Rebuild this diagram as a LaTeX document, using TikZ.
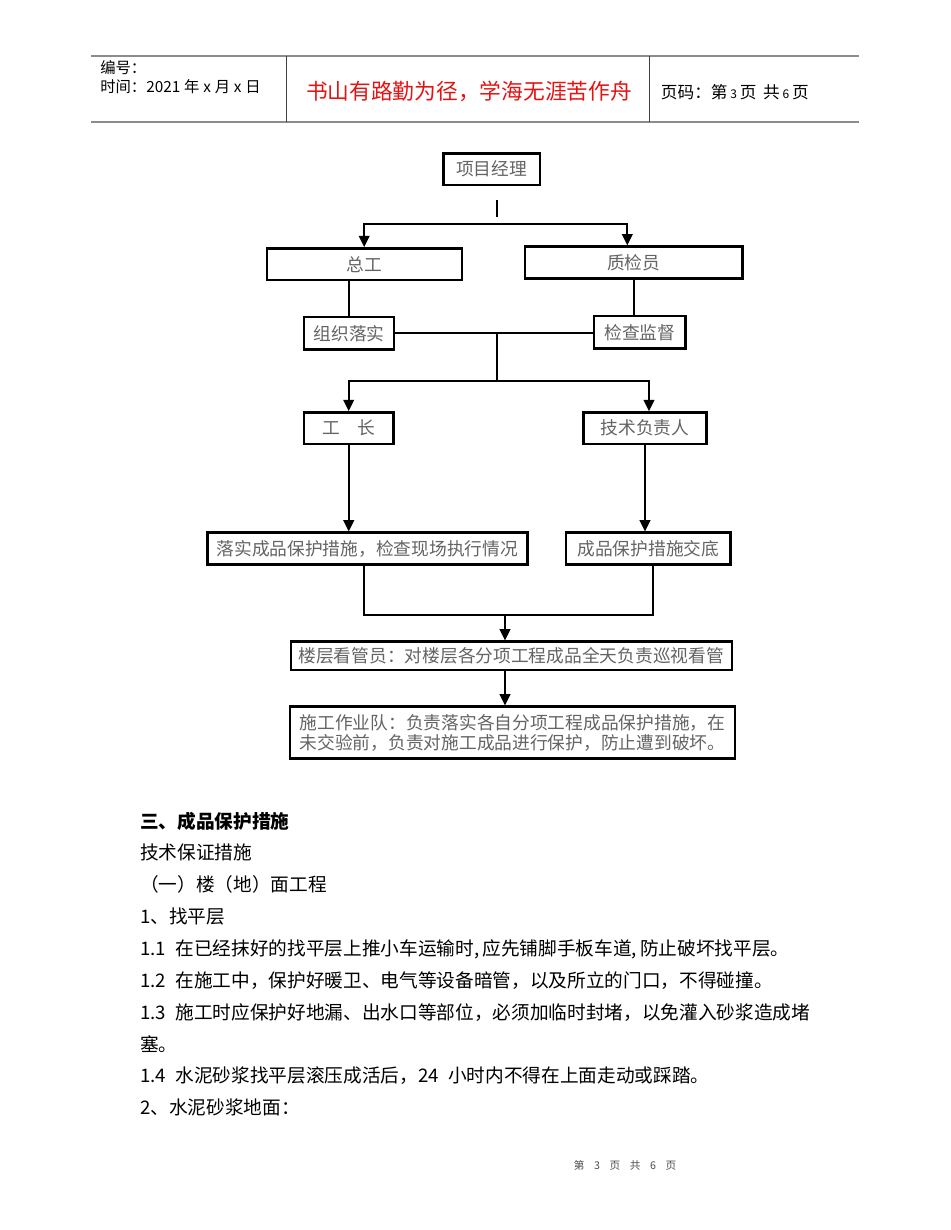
\documentclass[tikz,border=0pt]{standalone}
\usepackage{fontspec}
\setmainfont{Noto Sans CJK SC}
\usepackage{xcolor}
\usetikzlibrary{arrows.meta}

\definecolor{mottored}{RGB}{228,18,18}
\definecolor{flowgray}{RGB}{100,100,100}

\begin{document}
\begin{tikzpicture}[
        x=0.75pt, y=-0.75pt,
        every node/.style={inner sep=0pt},
        boxsize/.style 2 args={minimum width=#1*0.75pt, minimum height=#2*0.75pt},
        box/.style={rectangle, draw=black, line width=1.8pt, fill=white,
                    text=flowgray, font=\fontsize{13.3}{16}\selectfont},
        link/.style={line width=1.5pt, black},
        arrow/.style={-{Triangle[length=8.5pt, width=8pt]}, line width=1.5pt, black},
        rule/.style={line width=1.5pt, black!45},
        divider/.style={line width=0.8pt, black!75},
        head/.style={anchor=west, font=\fontsize{11.5}{13}\selectfont},
        body/.style={anchor=base west, font=\fontsize{14}{16}\selectfont}
    ]
    \useasboundingbox (0,0) rectangle (950,1230);

    % Page header
    \draw[rule] (91,55.7) -- (859.3,55.7);
    \draw[rule] (91,121.7) -- (859.3,121.7);
    \draw[divider] (286.7,55.7) -- (286.7,121.7);
    \draw[divider] (649.3,55.7) -- (649.3,121.7);
    \node[head] (code) at (100,67.5) {编号：};
    \node[head] (date) at (100,86.5)
        {时间：2021\hspace{0.25em}年\hspace{0.25em}x\hspace{0.25em}月\hspace{0.25em}x\hspace{0.25em}日};
    \node[text=mottored, font=\fontsize{16.3}{18}\selectfont] (motto) at (469,91.7)
        {书山有路勤为径，学海无涯苦作舟};
    \node[head, font=\fontsize{12.5}{14}\selectfont] (pageno) at (660.7,91.7)
        {页码：第\,{\fontsize{9}{10}\selectfont 3}\,页\hspace{0.4em}共\,{\fontsize{9}{10}\selectfont 6}\,页};

    % Top: project manager
    \node[box, boxsize={96.7}{31.7}] (pm) at (491.7,169.2) {项目经理};

    % Row 1: chief engineer and quality inspector
    \node[box, boxsize={195}{31.7}] (zg) at (364.2,264.2) {总工};
    \node[box, boxsize={217.3}{31.7}] (zj) at (633.7,262.5) {质检员};

    % Row 2: their duties
    \node[box, boxsize={90}{32}] (zz) at (349,333.3) {组织落实};
    \node[box, boxsize={91.7}{32.3}] (jc) at (639.8,332.2) {检查监督};

    % Row 3: foreman and technical lead
    \node[box, boxsize={89.3}{31.7}] (gz) at (348.7,428.2) {工\hspace{1em}长};
    \node[box, boxsize={123.3}{31.7}] (js) at (645,428.2) {技术负责人};

    % Row 4: what each of them does
    \node[box, boxsize={320}{31.7}] (ls) at (367.3,548.5) {落实成品保护措施，检查现场执行情况};
    \node[box, boxsize={164.7}{31.7}] (jd) at (648.3,548.5) {成品保护措施交底};

    % Row 5 and 6: floor keeper and work team
    \node[box, boxsize={441}{28.3}] (lc) at (511.2,655.8) {楼层看管员：对楼层各分项工程成品全天负责巡视看管};
    \node[box, boxsize={445}{51.7}, align=left, font=\fontsize{13.3}{15}\selectfont] (sg) at (512.5,732.5)
        {施工作业队：负责落实各自分项工程成品保护措施，在\\
         未交验前，负责对施工成品进行保护，防止遭到破坏。};

    % --- Connectors ---
    % stub under the manager, then the split to row 1
    \coordinate (stubA) at (496.7,200);
    \coordinate (stubB) at (496.7,216.7);
    \draw[link] (stubA) -- (stubB);
    \coordinate (forkA) at (496.7,224);
    \draw[arrow] (forkA) -| (zg.north);
    \draw[arrow] (forkA) -| ([xshift=-4.8pt]zj.north);

    % row 1 to row 2, joined in the middle
    \draw[link] (zz.north |- zg.south) -- (zz.north);
    \draw[link] (zj.south) -- (zj.south |- jc.north);
    \draw[link] (zz.east) -- (zz.east -| jc.west);
    \coordinate (forkB) at (497.3,333.3);
    \coordinate (forkC) at (497.3,380.7);
    \draw[link] (forkB) -- (forkC);
    \draw[arrow] (forkC) -| (gz.north);
    \draw[arrow] (forkC) -| ([xshift=3pt]js.north);

    % row 3 down to row 4
    \draw[arrow] (gz.south) -- (gz.south |- ls.north);
    \draw[arrow] (js.south) -- (js.south |- jd.north);

    % row 4 merges and runs down to the floor keeper and work team
    \coordinate (merge) at (505,615);
    \draw[link] ([xshift=-2.5pt]ls.south) |- (merge);
    \draw[link] ([xshift=3.75pt]jd.south) |- (merge);
    \draw[arrow] (merge) -- (merge |- lc.north);
    \draw[arrow] (merge |- lc.south) -- (merge |- sg.north);

    % Body text
    \node[body] (h3) at (140,828) {\bfseries 三、成品保护措施};
    \node[body] (t1) at (140,859.9) {技术保证措施};
    \node[body] (t2) at (140,891.7) {（一）楼（地）面工程};
    \node[body] (t3) at (140,923.6) {1、找平层};
    \node[body] (t4) at (140,955.4) {1.1\hspace{0.5em}在已经抹好的找平层上推小车运输时,\,应先铺脚手板车道,\,防止破坏找平层。};
    \node[body] (t5) at (140,987.3) {1.2\hspace{0.5em}在施工中，保护好暖卫、电气等设备暗管，以及所立的门口，不得碰撞。};
    \node[body] (t6) at (140,1019.1) {1.3\hspace{0.5em}施工时应保护好地漏、出水口等部位，必须加临时封堵，以免灌入砂浆造成堵};
    \node[body] (t7) at (140,1051) {塞。};
    \node[body] (t8) at (140,1082.8) {1.4\hspace{0.5em}水泥砂浆找平层滚压成活后，24\hspace{0.5em}小时内不得在上面走动或踩踏。};
    \node[body] (t9) at (140,1114.7) {2、水泥砂浆地面：};

    % Page footer
    \node[text=black!70, font=\fontsize{8}{10}\selectfont] (foot) at (625,1165)
        {\spaceskip=0.9em 第 3 页 共 6 页};
\end{tikzpicture}
\end{document}
